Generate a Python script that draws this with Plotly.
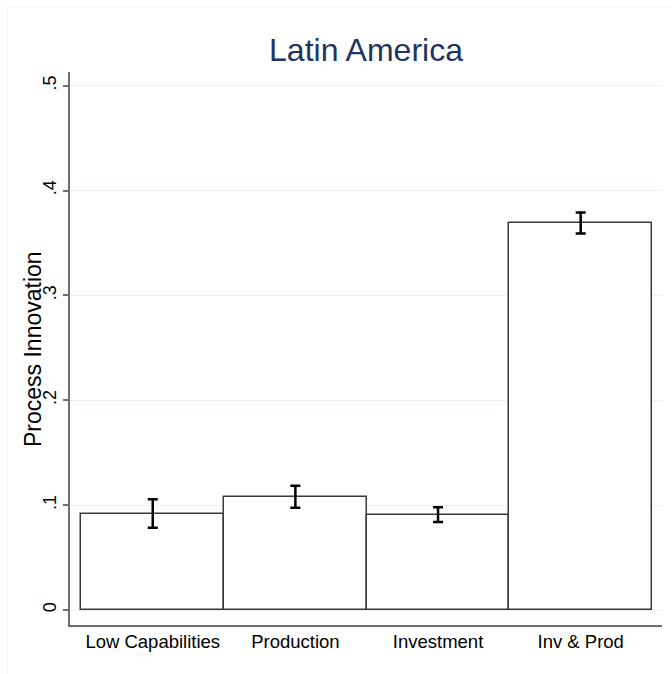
import plotly.graph_objects as go

# Process innovation share by firm capability group, with 95% CI half-widths
categories = ["Low Capabilities", "Production", "Investment", "Inv & Prod"]
means = [0.092, 0.108, 0.091, 0.369]
ci_half = [0.0135, 0.0105, 0.007, 0.010]
y_ticks = [0, 0.1, 0.2, 0.3, 0.4, 0.5]
y_tick_text = ["0", ".1", ".2", ".3", ".4", ".5"]

positions = list(range(len(categories)))

fig = go.Figure()
fig.add_trace(go.Bar(
    x=positions,
    y=means,
    width=1.0,
    marker=dict(color="white", line=dict(color="#3a3a3a", width=1.5)),
    error_y=dict(type="data", array=ci_half, visible=True,
                 color="black", thickness=2.5, width=5),
    showlegend=False,
))

W, H = 672, 674
L, R, T, B = 70, 10, 72, 49
pw, ph = W - L - R, H - T - B

def px_x(px):
    return (px - L) / pw

def px_y(py):
    return (H - B - py) / ph

fig.update_layout(
    width=W, height=H,
    margin=dict(l=L, r=R, t=T, b=B, autoexpand=False),
    paper_bgcolor="white",
    plot_bgcolor="white",
    font=dict(family="Liberation Sans, Arial, sans-serif", color="black"),
    title=dict(text="Latin America", x=px_x(366), xanchor="center",
               xref="paper", y=1 - 50 / H, yanchor="middle",
               font=dict(size=32, color="#1e3461")),
    bargap=0,
    xaxis=dict(
        range=[-0.58, 3.57],
        tickmode="array", tickvals=positions, ticktext=categories,
        ticks="", showgrid=False, zeroline=False,
        showline=True, linecolor="#6e6e6e", linewidth=1.5,
        tickfont=dict(size=18.5, color="black"),
        ticklabelstandoff=-1,
    ),
    yaxis=dict(
        range=[-0.0143, 0.513],
        tickmode="array", tickvals=y_ticks, ticktext=y_tick_text,
        tickangle=-90,
        ticks="outside", ticklen=5, tickcolor="#6e6e6e", tickwidth=1.5,
        showgrid=True, gridcolor="#eaf1f3", gridwidth=1,
        zeroline=False,
        showline=True, linecolor="#6e6e6e", linewidth=1.5,
        tickfont=dict(size=18, color="black"),
    ),
    annotations=[dict(
        text="Process Innovation", textangle=-90,
        xref="paper", yref="paper", x=px_x(33), y=px_y(349),
        xanchor="center", yanchor="middle", showarrow=False,
        font=dict(size=23, color="black"),
    )],
    shapes=[dict(
        type="rect", xref="paper", yref="paper",
        x0=px_x(7), y0=px_y(700), x1=px_x(700), y1=px_y(7),
        line=dict(color="#f0f0f0", width=1), layer="below",
    )],
)

fig.write_html("out.html")
